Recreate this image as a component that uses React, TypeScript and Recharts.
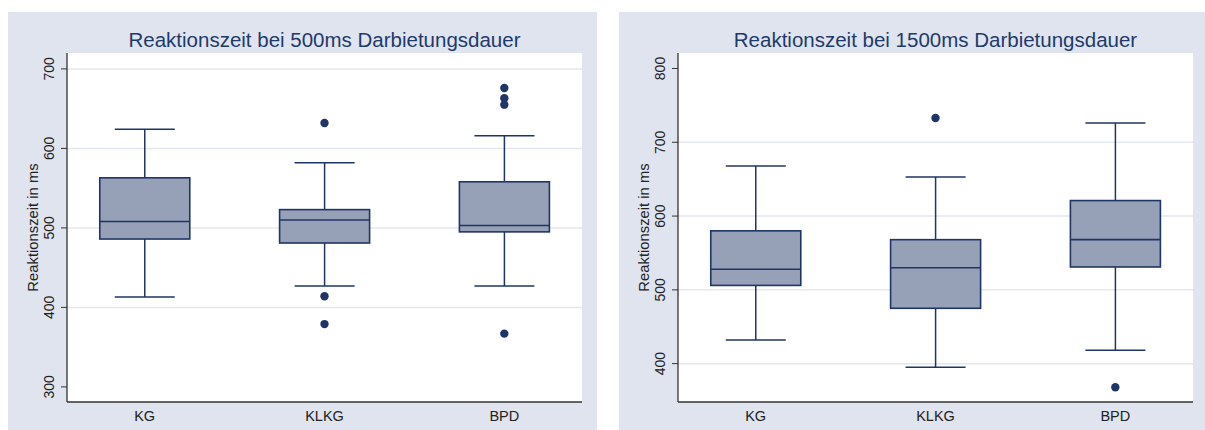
import React from "react";
import {
  ComposedChart,
  Bar,
  Scatter,
  XAxis,
  YAxis,
  CartesianGrid,
} from "recharts";

// groups on the x axis
const groups = ["KG", "KLKG", "BPD"];
const groupPos = [1, 2, 3];

// 500ms presentation time
const min500 = [413, 427, 427];
const q1_500 = [486, 481, 495];
const med500 = [508, 510, 503];
const q3_500 = [563, 523, 558];
const max500 = [624, 582, 616];
const outGroup500 = [2, 2, 2, 3, 3, 3, 3];
const outValue500 = [632, 414, 379, 676, 663, 655, 367];
const ticks500 = [300, 400, 500, 600, 700];
const grid500 = [400, 500, 600, 700];

// 1500ms presentation time
const min1500 = [432, 395, 418];
const q1_1500 = [506, 475, 531];
const med1500 = [528, 530, 568];
const q3_1500 = [580, 568, 621];
const max1500 = [668, 653, 726];
const outGroup1500 = [2, 3];
const outValue1500 = [733, 368];
const ticks1500 = [400, 500, 600, 700, 800];
const grid1500 = [400, 500, 600, 700];

const FONT = '"Liberation Sans", Arial, sans-serif';
const NAVY = "#1f3566";
const BOX_FILL = "#96a1b8";
const PANEL_BG = "#e0e4ef";
const AXIS = "#333";

const W = 589;
const H = 418;

function BoxShape(props: any) {
  const { x, y, width, height, payload } = props;
  const top = Math.min(y, y + height);
  const h = Math.abs(height);
  const span = payload.max - payload.min;
  const pos = (v: number) => top + (h * (payload.max - v)) / span;
  const cx = x + width / 2;
  const cap = width / 3;
  const yq3 = pos(payload.q3);
  const yq1 = pos(payload.q1);
  const ymed = pos(payload.med);
  const yMax = pos(payload.max);
  const yMin = pos(payload.min);
  return (
    <g>
      <line x1={cx} x2={cx} y1={yMax} y2={yq3} stroke={NAVY} strokeWidth={1.5} />
      <line x1={cx} x2={cx} y1={yq1} y2={yMin} stroke={NAVY} strokeWidth={1.5} />
      <line x1={cx - cap} x2={cx + cap} y1={yMax} y2={yMax} stroke={NAVY} strokeWidth={1.5} />
      <line x1={cx - cap} x2={cx + cap} y1={yMin} y2={yMin} stroke={NAVY} strokeWidth={1.5} />
      <rect
        x={x}
        y={yq3}
        width={width}
        height={yq1 - yq3}
        fill={BOX_FILL}
        stroke={NAVY}
        strokeWidth={1.6}
      />
      <line x1={x} x2={x + width} y1={ymed} y2={ymed} stroke={NAVY} strokeWidth={1.6} />
    </g>
  );
}

function OutlierDot(props: any) {
  return <circle cx={props.cx} cy={props.cy} r={4.2} fill={NAVY} />;
}

function YTick(props: any) {
  const { x, y, payload } = props;
  const bx = x - 5;
  return (
    <text
      x={bx}
      y={y}
      transform={`rotate(-90 ${bx} ${y})`}
      textAnchor="middle"
      fontFamily={FONT}
      fontSize={14}
      fill="#222"
    >
      {payload.value}
    </text>
  );
}

function XTick(props: any) {
  const { x, y, payload } = props;
  return (
    <text x={x} y={y + 19} textAnchor="middle" fontFamily={FONT} fontSize={14.5} fill="#222">
      {groups[payload.value - 1]}
    </text>
  );
}

function YLabel(props: any) {
  const vb = props.viewBox;
  const lx = vb.x + 30;
  const ly = vb.y + vb.height / 2;
  return (
    <text
      x={lx}
      y={ly}
      transform={`rotate(-90 ${lx} ${ly})`}
      textAnchor="middle"
      fontFamily={FONT}
      fontSize={14.8}
      fill="#222"
    >
      Reaktionszeit in ms
    </text>
  );
}

interface PanelProps {
  left: number;
  title: string;
  mins: number[];
  q1s: number[];
  meds: number[];
  q3s: number[];
  maxs: number[];
  outGroups: number[];
  outValues: number[];
  domain: [number, number];
  ticks: number[];
  grid: number[];
}

function BoxPanel(p: PanelProps) {
  const data = groupPos.map((g, i) => ({
    x: g,
    range: [p.mins[i], p.maxs[i]],
    min: p.mins[i],
    q1: p.q1s[i],
    med: p.meds[i],
    q3: p.q3s[i],
    max: p.maxs[i],
  }));
  const outliers = p.outGroups.map((g, i) => ({ x: g, y: p.outValues[i] }));

  return (
    <div
      style={{
        position: "absolute",
        left: p.left,
        top: 12,
        width: W,
        height: H,
        background: PANEL_BG,
      }}
    >
      <div
        style={{
          position: "absolute",
          left: 59,
          width: 515,
          top: 18,
          lineHeight: "20px",
          textAlign: "center",
          fontFamily: FONT,
          fontSize: 20.5,
          color: "#1e3a6b",
          whiteSpace: "nowrap",
        }}
      >
        {p.title}
      </div>
      <ComposedChart
        width={W}
        height={H}
        data={data}
        margin={{ top: 41, right: 15, left: 0, bottom: 0 }}
        style={{ position: "absolute", left: 0, top: 0 }}
      >
        <CartesianGrid
          vertical={false}
          horizontalValues={p.grid}
          stroke="#e3e7f0"
          strokeWidth={1.5}
          fill="#ffffff"
        />
        <XAxis
          type="number"
          dataKey="x"
          domain={[0.568, 3.432]}
          ticks={groupPos}
          allowDataOverflow
          height={28}
          tickSize={0}
          tickMargin={0}
          tickLine={false}
          axisLine={{ stroke: AXIS, strokeWidth: 1.5 }}
          tick={<XTick />}
        />
        <YAxis
          type="number"
          domain={p.domain}
          ticks={p.ticks}
          allowDataOverflow
          width={59}
          tickSize={6}
          tickMargin={2}
          axisLine={{ stroke: AXIS, strokeWidth: 1.3 }}
          tickLine={{ stroke: AXIS, strokeWidth: 1 }}
          tick={<YTick />}
          label={{ content: <YLabel /> }}
        />
        <Bar dataKey="range" barSize={90} shape={<BoxShape />} isAnimationActive={false} />
        <Scatter data={outliers} dataKey="y" shape={<OutlierDot />} isAnimationActive={false} />
      </ComposedChart>
    </div>
  );
}

export default function App() {
  return (
    <div
      style={{
        position: "absolute",
        left: 0,
        top: 0,
        width: 1205,
        height: 430,
        overflow: "hidden",
        background: "#ffffff",
      }}
    >
      <BoxPanel
        left={8}
        title="Reaktionszeit bei 500ms Darbietungsdauer"
        mins={min500}
        q1s={q1_500}
        meds={med500}
        q3s={q3_500}
        maxs={max500}
        outGroups={outGroup500}
        outValues={outValue500}
        domain={[281, 720]}
        ticks={ticks500}
        grid={grid500}
      />
      <BoxPanel
        left={619}
        title="Reaktionszeit bei 1500ms Darbietungsdauer"
        mins={min1500}
        q1s={q1_1500}
        meds={med1500}
        q3s={q3_1500}
        maxs={max1500}
        outGroups={outGroup1500}
        outValues={outValue1500}
        domain={[348, 821]}
        ticks={ticks1500}
        grid={grid1500}
      />
    </div>
  );
}
